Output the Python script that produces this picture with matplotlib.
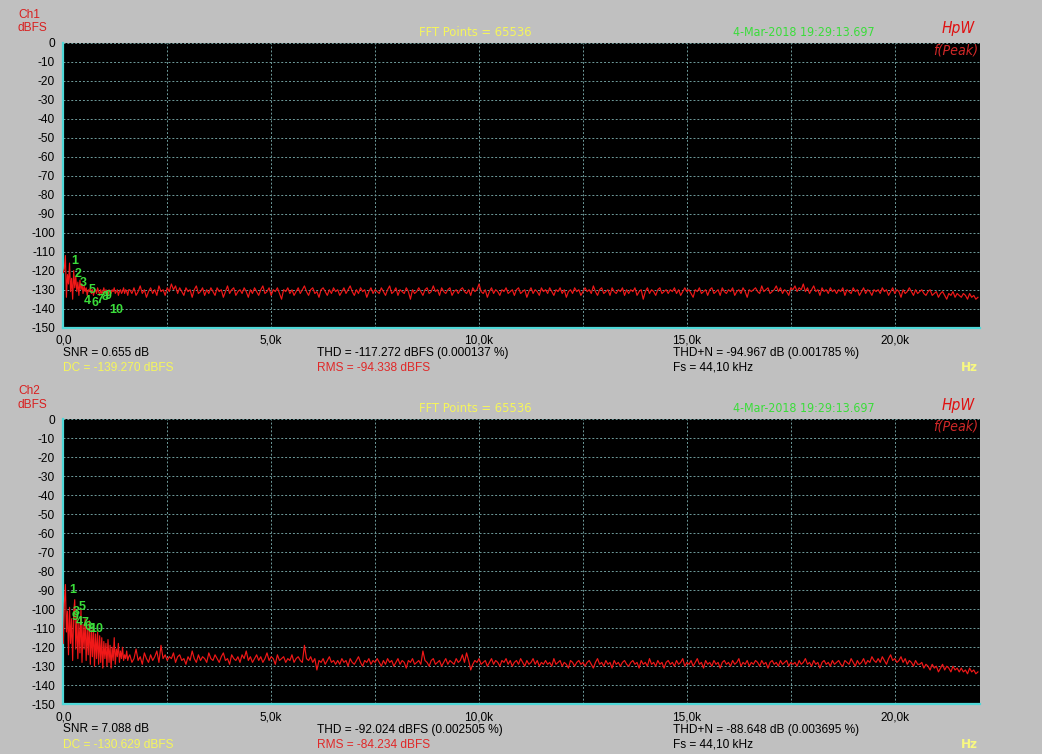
"""
plot.py - two-channel FFT noise spectrum, drawn like the analyser screenshot.
"""
import matplotlib
matplotlib.use("Agg")
import matplotlib.pyplot as plt           # noqa: E402
import numpy as np                         # noqa: E402
from matplotlib import font_manager        # noqa: E402

# ---- data -----------------------------------------------------------------
# low band: 0 .. 1575 Hz, one value per 25 Hz
low_step = 25
ch1_low = [
    -121, -119, -112, -134, -122, -127, -116, -131, -124, -135, -120, -129,
    -123, -131, -126, -133, -125, -130, -127, -132, -128, -131, -129, -133,
    -130, -131, -129, -132, -130, -133, -131, -130, -132, -129, -131, -133,
    -130, -132, -131, -129, -132, -130, -131, -133, -130, -131, -132, -130,
    -131, -129, -132, -131, -130, -133, -131, -130, -132, -131, -129, -132,
    -130, -131, -133, -130,
]
ch2_low = [
    -118, -97, -87, -112, -101, -124, -99, -118, -105, -127, -102, -95,
    -121, -104, -126, -107, -123, -100, -128, -108, -121, -105, -127, -110,
    -124, -106, -129, -111, -125, -109, -130, -113, -126, -112, -129, -114,
    -128, -115, -131, -117, -126, -118, -130, -116, -128, -119, -131, -120,
    -127, -115, -129, -121, -125, -118, -128, -122, -126, -120, -127, -124,
    -126, -122, -127, -125,
]

# broad band: 1600 .. 22000 Hz, one value per 50 Hz (one row = 1 kHz)
broad_start = 1600
broad_step = 50
ch1_broad = [
    -130, -132, -129, -133, -131, -128, -132, -130, -134, -131, -129, -132, -130, -133, -128, -131, -130, -133, -129, -131,
    -127, -130, -128, -132, -129, -131, -133, -129, -131, -130, -134, -130, -128, -132, -131, -129, -133, -130, -132, -129,
    -131, -133, -129, -131, -130, -134, -131, -128, -132, -130, -129, -133, -131, -130, -132, -129, -131, -134, -130, -132,
    -129, -131, -133, -130, -128, -132, -131, -129, -133, -130, -131, -129, -132, -135, -130, -131, -129, -132, -130, -133,
    -131, -129, -132, -130, -128, -131, -133, -130, -129, -132, -131, -134, -130, -129, -131, -133, -130, -132, -129, -131,
    -130, -133, -131, -129, -132, -130, -128, -131, -133, -130, -132, -129, -131, -130, -134, -131, -129, -132, -130, -131,
    -132, -129, -131, -133, -130, -128, -132, -131, -129, -133, -130, -131, -132, -129, -131, -135, -130, -132, -131, -129,
    -131, -133, -130, -129, -132, -131, -128, -131, -130, -133, -129, -131, -132, -130, -129, -133, -131, -130, -132, -130,
    -129, -131, -132, -130, -133, -129, -131, -130, -127, -131, -132, -130, -134, -131, -129, -132, -130, -131, -133, -130,
    -131, -129, -132, -131, -130, -133, -130, -129, -132, -131, -130, -134, -131, -129, -132, -130, -131, -133, -129, -131,
    -130, -132, -129, -131, -133, -130, -131, -129, -132, -130, -134, -131, -130, -132, -129, -131, -130, -133, -131, -129,
    -131, -130, -132, -128, -131, -133, -130, -129, -132, -131, -130, -133, -129, -131, -132, -130, -131, -129, -133, -130,
    -132, -130, -131, -129, -133, -131, -130, -135, -131, -129, -132, -130, -131, -133, -130, -129, -132, -131, -130, -132,
    -130, -131, -129, -132, -130, -133, -131, -129, -131, -130, -132, -134, -130, -131, -129, -132, -131, -130, -133, -130,
    -129, -132, -131, -130, -133, -129, -131, -132, -130, -131, -129, -133, -131, -130, -132, -129, -131, -134, -130, -131,
    -130, -129, -131, -132, -128, -131, -130, -129, -132, -131, -130, -128, -131, -129, -132, -130, -131, -133, -129, -130,
    -128, -131, -129, -130, -127, -131, -129, -132, -130, -128, -131, -130, -133, -129, -131, -130, -132, -129, -131, -130,
    -132, -130, -131, -129, -133, -130, -131, -132, -129, -131, -130, -133, -131, -129, -132, -130, -131, -133, -130, -131,
    -130, -132, -129, -131, -130, -133, -131, -129, -132, -130, -131, -134, -130, -132, -131, -129, -131, -133, -130, -132,
    -131, -130, -132, -133, -131, -130, -133, -132, -131, -134, -132, -131, -133, -135, -132, -133, -131, -134, -132, -133,
    -134, -132, -133, -135, -132, -134, -133, -135, -134,
]
ch2_broad = [
    -124, -128, -126, -121, -127, -125, -129, -123, -126, -128, -124, -127, -125, -122, -128, -119, -126, -124, -127, -125,
    -126, -123, -128, -125, -124, -127, -126, -129, -125, -127, -122, -126, -128, -124, -127, -125, -126, -128, -123, -126,
    -127, -124, -126, -128, -125, -123, -127, -126, -129, -124, -126, -127, -125, -128, -124, -126, -122, -127, -125, -128,
    -126, -124, -127, -125, -128, -126, -123, -127, -125, -126, -129, -124, -127, -126, -125, -128, -126, -127, -124, -128,
    -126, -125, -127, -128, -119, -126, -127, -125, -128, -126, -132, -127, -128, -126, -129, -127, -125, -128, -127, -129,
    -127, -129, -126, -128, -127, -130, -126, -128, -129, -127, -125, -128, -130, -127, -128, -126, -129, -127, -128, -126,
    -128, -130, -127, -129, -126, -128, -127, -130, -128, -126, -129, -127, -128, -131, -127, -128, -126, -129, -128, -127,
    -129, -122, -127, -128, -130, -127, -126, -129, -128, -127, -130, -128, -126, -129, -127, -128, -129, -126, -128, -127,
    -124, -128, -123, -127, -132, -129, -127, -128, -126, -129, -128, -127, -130, -128, -126, -129, -127, -128, -130, -127,
    -128, -126, -129, -127, -130, -128, -127, -129, -126, -128, -130, -127, -129, -128, -126, -129, -127, -130, -128, -129,
    -127, -129, -128, -130, -126, -129, -128, -127, -130, -128, -129, -131, -127, -128, -130, -128, -127, -129, -128, -130,
    -128, -127, -129, -131, -128, -126, -129, -128, -130, -127, -129, -128, -131, -127, -129, -128, -130, -128, -127, -129,
    -130, -128, -127, -129, -128, -131, -127, -129, -128, -130, -126, -129, -128, -130, -127, -129, -128, -131, -128, -127,
    -129, -128, -130, -127, -129, -128, -126, -130, -128, -129, -127, -130, -128, -126, -129, -128, -131, -127, -129, -128,
    -130, -127, -129, -128, -131, -128, -127, -129, -128, -130, -127, -129, -128, -126, -130, -128, -129, -127, -130, -128,
    -129, -127, -128, -130, -127, -129, -128, -131, -128, -127, -129, -128, -130, -127, -129, -128, -127, -130, -128, -129,
    -128, -130, -127, -129, -128, -126, -129, -128, -130, -127, -129, -128, -131, -128, -127, -129, -128, -130, -127, -129,
    -128, -127, -129, -130, -127, -128, -129, -126, -128, -130, -127, -129, -128, -126, -129, -127, -128, -125, -127, -128,
    -126, -128, -125, -127, -129, -126, -124, -127, -126, -128, -127, -125, -128, -126, -129, -127, -128, -130, -127, -129,
    -129, -128, -131, -129, -130, -132, -129, -131, -130, -133, -131, -129, -132, -130, -131, -133, -130, -132, -131, -133,
    -131, -133, -132, -134, -131, -133, -132, -134, -133,
]

# harmonic markers (label, Hz, dBFS)
ch1_harm_lbl = ["1", "2", "3", "5", "4", "6", "7", "8", "9", "10"]
ch1_harm_f = [281, 361, 481, 683, 577, 762, 883, 1003, 1083, 1284]
ch1_harm_db = [-114.7, -121.9, -126.6, -130.2, -136.0, -137.2, -135.4, -133.7, -133.3, -140.7]
ch2_harm_lbl = ["1", "5", "3", "9", "4", "7", "6", "8", "10"]
ch2_harm_f = [226, 450, 305, 290, 395, 520, 600, 660, 790]
ch2_harm_db = [-90.0, -98.8, -101.5, -104.0, -106.5, -107.5, -109.5, -110.5, -110.5]

# measurement readouts
ch_names = ["Ch1", "Ch2"]
snr_txt = ["SNR = 0.655 dB", "SNR = 7.088 dB"]
dc_txt = ["DC = -139.270 dBFS", "DC = -130.629 dBFS"]
thd_txt = ["THD = -117.272 dBFS (0.000137 %)", "THD = -92.024 dBFS (0.002505 %)"]
rms_txt = ["RMS = -94.338 dBFS", "RMS = -84.234 dBFS"]
thdn_txt = ["THD+N = -94.967 dB (0.001785 %)", "THD+N = -88.648 dB (0.003695 %)"]
fs_txt = "Fs = 44,10 kHz"
fft_txt = "FFT Points = 65536"
stamp_txt = "4-Mar-2018 19:29:13.697"

y_ticks = list(range(0, -151, -10))
x_ticks = [0, 2500, 5000, 7500, 10000, 12500, 15000, 17500, 20000]
x_labels = ["0,0", "", "5,0k", "", "10,0k", "", "15,0k", "", "20,0k"]
f_max = 22050

# ---- look -------------------------------------------------------------------
W, H = 1042, 754
BG = "#c0c0c0"
RED = "#f01818"
YEL = "#f6f65a"
GRN = "#3add3a"
CYAN = "#4fd8d8"
GRID = "#6f9c9c"


def _has(name, stretch="normal"):
    try:
        p = font_manager.findfont(font_manager.FontProperties(family=name, stretch=stretch),
                                  fallback_to_default=False)
    except Exception:
        return False
    return stretch == "normal" or "ondensed" in p or "arrow" in p


SANS = "Liberation Sans" if _has("Liberation Sans") else "DejaVu Sans"
# condensed face for the header texts, whichever one is installed
if _has("Liberation Sans Narrow"):
    NARROW = dict(family="Liberation Sans Narrow")
    NSCALE = 1.0
elif _has("DejaVu Sans", "condensed"):
    NARROW = dict(family="DejaVu Sans", fontstretch="condensed")
    NSCALE = 0.86
else:
    NARROW = None
    NSCALE = 0.84


def px(x, y):
    """pixel position (from top-left) -> figure fraction"""
    return x / W, 1 - y / H


def txt(fig, x, y, s, **kw):
    kw.setdefault("family", SANS)
    kw.setdefault("fontsize", 8.6)
    kw.setdefault("color", "black")
    kw.setdefault("va", "center")
    fig.text(*px(x, y), s, **kw)


def ntxt(fig, x, y, s, size, **kw):
    # header text in the narrow face, falling back to the plain sans
    if NARROW:
        kw.update(NARROW)
    txt(fig, x, y, s, fontsize=size * NSCALE, **kw)


def spectrum(low, broad):
    f_low = np.arange(len(low)) * low_step
    f_broad = broad_start + np.arange(len(broad)) * broad_step
    return np.concatenate([f_low, f_broad]), np.array(low + broad, dtype=float)


def draw_panel(fig, i, top, low, broad, hl, hf, hd):
    bottom = top + 285
    left, right = 63.3, 980
    ax = fig.add_axes([left / W, 1 - bottom / H, (right - left) / W, 285 / H])
    ax.set_facecolor("black")
    f, db = spectrum(low, broad)
    ax.plot(f, db, color=RED, lw=0.85, zorder=3)
    for s, x, y in zip(hl, hf, hd):
        ax.text(x, y, s, color=GRN, fontsize=9, fontweight="bold",
                family=SANS, ha="center", va="center", zorder=4)

    ax.set_xlim(0, f_max)
    ax.set_ylim(-150, 0)
    ax.set_xticks(x_ticks)
    ax.set_xticklabels(x_labels)
    ax.set_yticks(y_ticks)
    ax.set_yticklabels([str(v) for v in y_ticks])
    ax.tick_params(length=0, labelsize=8.6, labelcolor="black")
    ax.tick_params(axis="y", pad=6)
    ax.tick_params(axis="x", pad=5)
    for lab in ax.get_xticklabels() + ax.get_yticklabels():
        lab.set_family(SANS)
    ax.grid(True, color=GRID, lw=0.7, ls=(0, (2, 2)))
    for side in ("top", "right"):
        ax.spines[side].set_visible(False)
    for side in ("left", "bottom"):
        ax.spines[side].set_color(CYAN)
        ax.spines[side].set_linewidth(1.6)

    o = top - 42.7  # vertical offset of this panel's labels
    txt(fig, 18, 14.5 + o, ch_names[i], color="#d82020")
    txt(fig, 18, 28 + o, "dBFS", color="#d82020")
    ntxt(fig, 419, 32 + o, fft_txt, 10.8, color=YEL)
    ntxt(fig, 733, 32 + o, stamp_txt, 10.4, color=GRN)
    ntxt(fig, 975, 29 + o, "HpW", 13, color="#e01010", style="italic", ha="right")
    ntxt(fig, 978, 50 + o, "f(Peak)", 11.8, color="#d02828", style="italic", ha="right")

    txt(fig, 63, 353 + o, snr_txt[i])
    txt(fig, 63, 368 + o, dc_txt[i], color=YEL)
    txt(fig, 317, 353 + o, thd_txt[i])
    txt(fig, 317, 368 + o, rms_txt[i], color="#e02828")
    txt(fig, 673, 353 + o, thdn_txt[i])
    txt(fig, 673, 368 + o, fs_txt)
    ntxt(fig, 978, 368 + o, "Hz", 11.2, color="#f8f880", fontweight="bold", ha="right")
    return ax


fig = plt.figure(figsize=(W / 100, H / 100), dpi=100, facecolor=BG)
draw_panel(fig, 0, 42.7, ch1_low, ch1_broad, ch1_harm_lbl, ch1_harm_f, ch1_harm_db)
draw_panel(fig, 1, 419.2, ch2_low, ch2_broad, ch2_harm_lbl, ch2_harm_f, ch2_harm_db)
fig.savefig("out.png", dpi=100, facecolor=BG)
plt.close(fig)
